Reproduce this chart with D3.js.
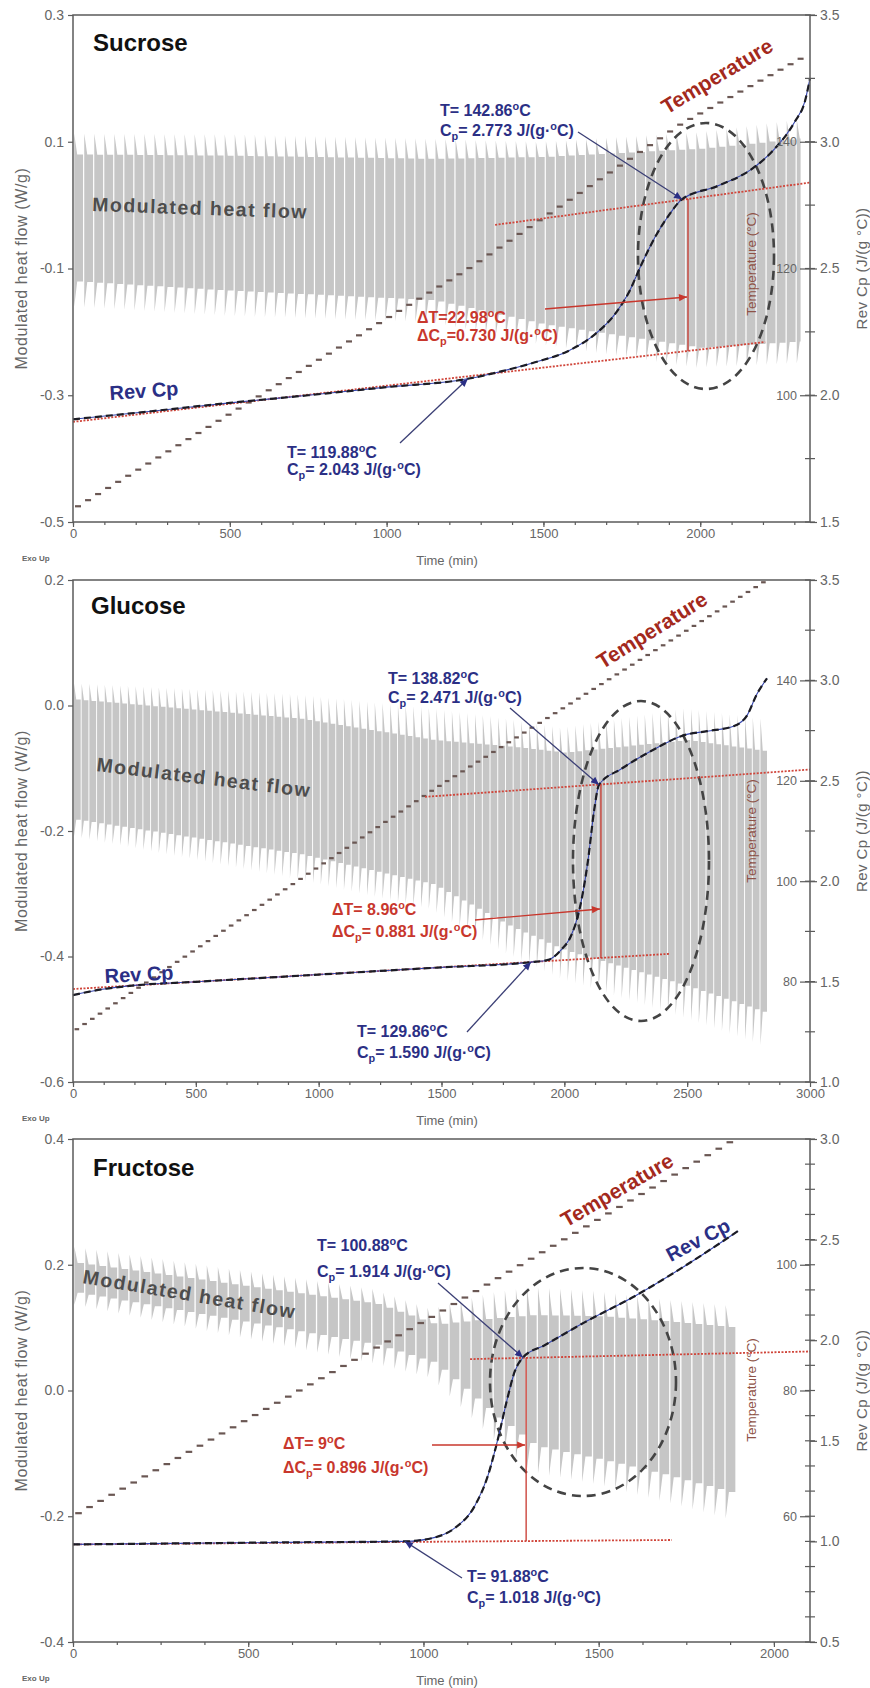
<!DOCTYPE html>
<html>
<head>
<meta charset="utf-8">
<script src="https://cdnjs.cloudflare.com/ajax/libs/d3/7.8.5/d3.min.js"></script>
<style>
  body { margin: 0; background: #fff; }
  svg { display: block; }
</style>
</head>
<body>
<div id="chart"></div>
<script>
// ---------- values ----------
// Sucrose
var sucroseTimeTicks = [0, 500, 1000, 1500, 2000];
var sucroseHfTicks = [-0.5, -0.3, -0.1, 0.1, 0.3];
var sucroseCpTicks = [1.5, 2.0, 2.5, 3.0, 3.5];
var sucroseTempTicks = [100, 120, 140];
var sucroseStep = 32;
var sucroseHfTime   = [0, 500, 1150, 1500, 2000, 2320];
var sucroseHfTip    = [0.113, 0.112, 0.105, 0.100, 0.115, 0.135];
var sucroseHfTop    = [0.080, 0.078, 0.073, 0.076, 0.089, 0.105];
var sucroseHfBottom = [-0.120, -0.135, -0.150, -0.188, -0.225, -0.215];
var sucroseHfTail   = [-0.160, -0.175, -0.185, -0.220, -0.257, -0.250];
var sucroseTempTime  = [0, 1259, 1942, 2335];
var sucroseTempValue = [82.0, 119.9, 142.9, 153.5];
var sucroseCpTime  = [0, 250, 500, 750, 1000, 1259, 1368, 1473, 1578, 1664, 1728, 1770, 1814, 1857, 1898, 1942, 2057, 2165, 2238, 2302, 2334, 2350];
var sucroseCpValue = [1.905, 1.937, 1.97, 2.0, 2.032, 2.065, 2.095, 2.13, 2.174, 2.24, 2.32, 2.40, 2.52, 2.626, 2.707, 2.773, 2.826, 2.893, 2.973, 3.08, 3.16, 3.25];
var sucroseBaseLowTime = [0, 2207],  sucroseBaseLowCp = [1.895, 2.21];
var sucroseBaseHighTime = [1346, 2350], sucroseBaseHighCp = [2.672, 2.839];
var sucroseDropTime = 1961;
var sucroseMarkTime = [1259, 1942], sucroseMarkCp = [2.065, 2.773];

// Glucose
var glucoseTimeTicks = [0, 500, 1000, 1500, 2000, 2500, 3000];
var glucoseHfTicks = [-0.6, -0.4, -0.2, 0.0, 0.2];
var glucoseCpTicks = [1.0, 1.5, 2.0, 2.5, 3.0, 3.5];
var glucoseTempTicks = [80, 100, 120, 140];
var glucoseStep = 31.4;
var glucoseHfTime   = [0, 924, 1466, 1770, 2000, 2500, 2825];
var glucoseHfTip    = [0.036, 0.018, -0.004, -0.020, -0.035, -0.004, -0.021];
var glucoseHfTop    = [0.010, -0.021, -0.055, -0.065, -0.075, -0.055, -0.073];
var glucoseHfBottom = [-0.181, -0.237, -0.285, -0.350, -0.390, -0.447, -0.490];
var glucoseHfTail   = [-0.208, -0.277, -0.325, -0.395, -0.436, -0.498, -0.543];
var glucoseTempTime  = [0, 1466, 2825];
var glucoseTempValue = [70, 118.2, 160];
var glucoseCpTime  = [0, 120, 250, 500, 1000, 1500, 1864, 1934, 1986, 2027, 2056, 2076, 2096, 2121, 2141, 2231, 2353, 2487, 2581, 2691, 2744, 2784, 2825];
var glucoseCpValue = [1.433, 1.462, 1.481, 1.499, 1.535, 1.571, 1.597, 1.608, 1.657, 1.727, 1.831, 1.946, 2.10, 2.35, 2.48, 2.559, 2.648, 2.727, 2.747, 2.773, 2.826, 2.932, 3.01];
var glucoseBaseLowTime = [0, 2426],  glucoseBaseLowCp = [1.463, 1.638];
var glucoseBaseHighTime = [1433, 3000], glucoseBaseHighCp = [2.42, 2.556];
var glucoseDropTime = 2149;
var glucoseMarkTime = [1864, 2141], glucoseMarkCp = [1.597, 2.48];

// Fructose
var fructoseTimeTicks = [0, 500, 1000, 1500, 2000];
var fructoseHfTicks = [-0.4, -0.2, 0.0, 0.2, 0.4];
var fructoseCpTicks = [0.5, 1.0, 1.5, 2.0, 2.5, 3.0];
var fructoseTempTicks = [60, 80, 100];
var fructoseStep = 31.5;
var fructoseHfTime   = [0, 865, 1033, 1206, 1318, 1509, 1698, 1897];
var fructoseHfTip    = [0.230, 0.162, 0.130, 0.156, 0.165, 0.158, 0.145, 0.135];
var fructoseHfTop    = [0.204, 0.138, 0.105, 0.115, 0.120, 0.118, 0.110, 0.100];
var fructoseHfBottom = [0.157, 0.073, 0.044, -0.040, -0.088, -0.110, -0.135, -0.165];
var fructoseHfTail   = [0.138, 0.043, 0.020, -0.075, -0.130, -0.150, -0.177, -0.207];
var fructoseTempTime  = [0, 1030, 1890];
var fructoseTempValue = [60, 91.9, 120];
var fructoseCpTime  = [0, 300, 600, 947, 1033, 1090, 1147, 1184, 1213, 1238, 1261, 1284, 1347, 1461, 1604, 1746, 1898];
var fructoseCpValue = [0.985, 0.99, 0.995, 1.0, 1.02, 1.067, 1.178, 1.327, 1.513, 1.70, 1.847, 1.914, 1.976, 2.09, 2.22, 2.369, 2.543];
var fructoseBaseLowTime = [0, 1709],  fructoseBaseLowCp = [0.985, 1.007];
var fructoseBaseHighTime = [1133, 2103], fructoseBaseHighCp = [1.906, 1.944];
var fructoseDropTime = 1293;
var fructoseMarkTime = [947, 1284], fructoseMarkCp = [1.0, 1.914];

// ---------- drawing ----------
var FONT = "'Liberation Sans', Arial, Helvetica, sans-serif";
var NAVY = "#2b2f85", RED = "#c8372d", DARKRED = "#a3291d", AXIS = "#5b5b5b", TICKTXT = "#666";
var L = 73, R = 810;

function sup(s) { return [s, "sup"]; }
function sub(s) { return [s, "sub"]; }

var panels = [
  {
    name: "Sucrose", top: 15, bottom: 522, tMax: 2350, timeMinor: 100, cpMinor: 0.25,
    hfDomain: [-0.5, 0.3], cpDomain: [1.5, 3.5], tempDomain: [80, 160],
    timeTicks: sucroseTimeTicks, hfTicks: sucroseHfTicks, cpTicks: sucroseCpTicks, tempTicks: sucroseTempTicks,
    step: sucroseStep,
    hf: { time: sucroseHfTime, tip: sucroseHfTip, top: sucroseHfTop, bottom: sucroseHfBottom, tail: sucroseHfTail },
    temp: { time: sucroseTempTime, value: sucroseTempValue },
    cp: { time: sucroseCpTime, value: sucroseCpValue },
    baseLow: { time: sucroseBaseLowTime, cp: sucroseBaseLowCp },
    baseHigh: { time: sucroseBaseHighTime, cp: sucroseBaseHighCp },
    drop: sucroseDropTime, marks: { time: sucroseMarkTime, cp: sucroseMarkCp },
    lay: {
      title: [93, 36], mhf: [92, 196, 2], revCp: [110, 385, -4, "start"],
      tempLabel: [717, 61, -31], ellipse: [706, 241, 68, 133], tempAxisY: 249,
      notes: [
        { x: 287, y: 443, lh: 17, color: NAVY, lines: [["T= 119.88", sup("o"), "C"], ["C", sub("p"), "= 2.043 J/(g·", sup("o"), "C)"]] },
        { x: 440, y: 101, lh: 20, color: NAVY, lines: [["T= 142.86", sup("o"), "C"], ["C", sub("p"), "= 2.773 J/(g·", sup("o"), "C)"]] },
        { x: 417, y: 308, lh: 18, color: RED, lines: [["ΔT=22.98", sup("o"), "C"], ["ΔC", sub("p"), "=0.730 J/(g·", sup("o"), "C)"]] }
      ],
      pointers: [[400, 428, 0], [578, 117, 1]],
      redArrow: [545, 294, 282]
    }
  },
  {
    name: "Glucose", top: 580, bottom: 1082, tMax: 3000, timeMinor: 125, cpMinor: 0.25,
    hfDomain: [-0.6, 0.2], cpDomain: [1.0, 3.5], tempDomain: [60, 160],
    timeTicks: glucoseTimeTicks, hfTicks: glucoseHfTicks, cpTicks: glucoseCpTicks, tempTicks: glucoseTempTicks,
    step: glucoseStep,
    hf: { time: glucoseHfTime, tip: glucoseHfTip, top: glucoseHfTop, bottom: glucoseHfBottom, tail: glucoseHfTail },
    temp: { time: glucoseTempTime, value: glucoseTempValue },
    cp: { time: glucoseCpTime, value: glucoseCpValue },
    baseLow: { time: glucoseBaseLowTime, cp: glucoseBaseLowCp },
    baseHigh: { time: glucoseBaseHighTime, cp: glucoseBaseHighCp },
    drop: glucoseDropTime, marks: { time: glucoseMarkTime, cp: glucoseMarkCp },
    lay: {
      title: [91, 34], mhf: [96, 191, 7], revCp: [105, 403, -3, "start"],
      tempLabel: [652, 50, -32], ellipse: [641, 281, 68, 160], tempAxisY: 251,
      notes: [
        { x: 388, y: 104, lh: 19, color: NAVY, lines: [["T= 138.82", sup("o"), "C"], ["C", sub("p"), "= 2.471 J/(g·", sup("o"), "C)"]] },
        { x: 332, y: 335, lh: 22, color: RED, lines: [["ΔT= 8.96", sup("o"), "C"], ["ΔC", sub("p"), "= 0.881 J/(g·", sup("o"), "C)"]] },
        { x: 357, y: 457, lh: 21, color: NAVY, lines: [["T= 129.86", sup("o"), "C"], ["C", sub("p"), "= 1.590 J/(g·", sup("o"), "C)"]] }
      ],
      pointers: [[510, 128, 1], [467, 452, 0]],
      redArrow: [475, 340, 329]
    }
  },
  {
    name: "Fructose", top: 1139, bottom: 1642, tMax: 2103, timeMinor: 125, cpMinor: 0.125,
    hfDomain: [-0.4, 0.4], cpDomain: [0.5, 3.0], tempDomain: [40, 120],
    timeTicks: fructoseTimeTicks, hfTicks: fructoseHfTicks, cpTicks: fructoseCpTicks, tempTicks: fructoseTempTicks,
    step: fructoseStep,
    hf: { time: fructoseHfTime, tip: fructoseHfTip, top: fructoseHfTop, bottom: fructoseHfBottom, tail: fructoseHfTail },
    temp: { time: fructoseTempTime, value: fructoseTempValue },
    cp: { time: fructoseCpTime, value: fructoseCpValue },
    baseLow: { time: fructoseBaseLowTime, cp: fructoseBaseLowCp },
    baseHigh: { time: fructoseBaseHighTime, cp: fructoseBaseHighCp },
    drop: fructoseDropTime, marks: { time: fructoseMarkTime, cp: fructoseMarkCp },
    lay: {
      title: [93, 37], mhf: [82, 144, 9.5], revCp: [698, 101, -28, "middle"],
      tempLabel: [617, 51, -30], ellipse: [583, 243, 93, 114], tempAxisY: 251,
      notes: [
        { x: 317, y: 112, lh: 26, color: NAVY, lines: [["T= 100.88", sup("o"), "C"], ["C", sub("p"), "= 1.914 J/(g·", sup("o"), "C)"]] },
        { x: 283, y: 310, lh: 24, color: RED, lines: [["ΔT= 9", sup("o"), "C"], ["ΔC", sub("p"), "= 0.896 J/(g·", sup("o"), "C)"]] },
        { x: 467, y: 443, lh: 21, color: NAVY, lines: [["T= 91.88", sup("o"), "C"], ["C", sub("p"), "= 1.018 J/(g·", sup("o"), "C)"]] }
      ],
      pointers: [[438, 144, 1], [462, 439, 0]],
      redArrow: [432, 306, 306]
    }
  }
];

var svg = d3.select("#chart").append("svg").attr("width", 870).attr("height", 1688)
  .style("font-family", FONT);
var defs = svg.append("defs");
function marker(id, color) {
  defs.append("marker").attr("id", id).attr("viewBox", "0 0 10 10")
    .attr("refX", 10).attr("refY", 5).attr("markerUnits", "userSpaceOnUse")
    .attr("markerWidth", 9).attr("markerHeight", 8).attr("orient", "auto")
    .append("path").attr("d", "M0,0.5 L10,5 L0,9.5 z").attr("fill", color);
}
marker("arrNavy", NAVY);
marker("arrRed", RED);

function richText(g, x, y, parts, size, color) {
  var t = g.append("text").attr("x", x).attr("y", y).attr("font-size", size)
    .attr("font-weight", "bold").attr("fill", color);
  var cur = 0;
  parts.forEach(function(p) {
    var s = typeof p === "string" ? [p, ""] : p;
    var off = s[1] === "sub" ? size * 0.28 : s[1] === "sup" ? -size * 0.4 : 0;
    var sp = t.append("tspan").attr("dy", off - cur).text(s[0]);
    if (off !== 0) sp.attr("font-size", size * 0.68);
    cur = off;
  });
  return t;
}

function styleAxis(sel, fs) {
  sel.attr("font-family", FONT).attr("font-size", fs);
  sel.select(".domain").remove();
  sel.selectAll("line").attr("stroke", AXIS).attr("stroke-width", 1.2);
  sel.selectAll("text").attr("fill", TICKTXT);
}

function drawPanel(p) {
  var g = svg.append("g");
  var top = p.top, lay = p.lay;
  var x = d3.scaleLinear().domain([0, p.tMax]).range([L, R]);
  var yHf = d3.scaleLinear().domain(p.hfDomain).range([p.bottom, p.top]);
  var yCp = d3.scaleLinear().domain(p.cpDomain).range([p.bottom, p.top]);
  var yT = d3.scaleLinear().domain(p.tempDomain).range([p.bottom, p.top]);

  // modulated heat flow: one spike per isothermal step, envelope from the read values
  var env = function(arr) { return d3.scaleLinear().domain(p.hf.time).range(arr).clamp(true); };
  var eTip = env(p.hf.tip), eTop = env(p.hf.top), eBot = env(p.hf.bottom), eTail = env(p.hf.tail);
  var P = p.step, hfEnd = d3.max(p.hf.time);
  var d = d3.range(0, hfEnd - P * 0.4, P).map(function(t0) {
    var tm = t0 + P / 2;
    var xa = x(t0 + 0.12 * P), xb = x(t0 + 0.42 * P), xc = x(Math.min(t0 + P, hfEnd));
    return "M" + xa + "," + yHf(eTail(tm)) + "L" + xa + "," + yHf(eTip(tm)) +
      "L" + xb + "," + yHf(eTop(tm)) + "L" + xc + "," + yHf(eTop(tm)) +
      "L" + xc + "," + yHf(eBot(tm)) + "L" + xb + "," + yHf(eBot(tm)) + "Z";
  }).join("");
  g.append("path").attr("d", d).attr("fill", "#c6c6c6");

  // temperature staircase
  var tScale = d3.scaleLinear().domain(p.temp.time).range(p.temp.value);
  var tEnd = d3.max(p.temp.time);
  g.append("g").selectAll("line").data(d3.range(0, tEnd - P * 0.4, P)).join("line")
    .attr("x1", function(t0) { return x(t0 + 0.2 * P); })
    .attr("x2", function(t0) { return x(t0 + 0.8 * P); })
    .attr("y1", function(t0) { return yT(tScale(t0 + P / 2)); })
    .attr("y2", function(t0) { return yT(tScale(t0 + P / 2)); })
    .attr("stroke", "#6a5753").attr("stroke-width", 2.2);

  // dashed ellipse
  g.append("ellipse").attr("cx", lay.ellipse[0]).attr("cy", top + lay.ellipse[1])
    .attr("rx", lay.ellipse[2]).attr("ry", lay.ellipse[3])
    .attr("fill", "none").attr("stroke", "#444").attr("stroke-width", 2.6).attr("stroke-dasharray", "9,6");

  // dotted baselines
  [p.baseLow, p.baseHigh].forEach(function(b) {
    g.append("line").attr("x1", x(b.time[0])).attr("x2", x(b.time[1]))
      .attr("y1", yCp(b.cp[0])).attr("y2", yCp(b.cp[1]))
      .attr("stroke", "#d0453a").attr("stroke-width", 1.8).attr("stroke-dasharray", "2,1.5");
  });

  // Rev Cp
  var cpLine = d3.line().x(function(v) { return x(v[0]); }).y(function(v) { return yCp(v[1]); }).curve(d3.curveMonotoneX);
  var pts = d3.zip(p.cp.time, p.cp.value);
  g.append("path").attr("d", cpLine(pts)).attr("fill", "none").attr("stroke", "#3445b0").attr("stroke-width", 1.1);
  g.append("path").attr("d", cpLine(pts)).attr("fill", "none").attr("stroke", "#1c1c24")
    .attr("stroke-width", 2.2).attr("stroke-dasharray", "7,4");

  var lo = d3.scaleLinear().domain(p.baseLow.time).range(p.baseLow.cp);
  var hi = d3.scaleLinear().domain(p.baseHigh.time).range(p.baseHigh.cp);
  g.append("line").attr("x1", x(p.drop)).attr("x2", x(p.drop))
    .attr("y1", yCp(hi(p.drop))).attr("y2", yCp(lo(p.drop)))
    .attr("stroke", RED).attr("stroke-width", 1.3);

  // red arrow to the step
  g.append("line").attr("x1", lay.redArrow[0]).attr("y1", top + lay.redArrow[1])
    .attr("x2", x(p.drop) - 1).attr("y2", top + lay.redArrow[2])
    .attr("stroke", RED).attr("stroke-width", 1.4).attr("marker-end", "url(#arrRed)");

  // pointers to the onset / end points
  lay.pointers.forEach(function(pt) {
    var i = pt[2];
    g.append("line").attr("x1", pt[0]).attr("y1", top + pt[1])
      .attr("x2", x(p.marks.time[i])).attr("y2", yCp(p.marks.cp[i]))
      .attr("stroke", "#3b3f75").attr("stroke-width", 1.3).attr("marker-end", "url(#arrNavy)");
  });

  // frame
  g.append("rect").attr("x", L).attr("y", p.top).attr("width", R - L).attr("height", p.bottom - p.top)
    .attr("fill", "none").attr("stroke", AXIS).attr("stroke-width", 1.5);

  // axes
  var ax = g.append("g").attr("transform", "translate(" + L + ",0)")
    .call(d3.axisLeft(yHf).tickValues(p.hfTicks).tickSize(5).tickPadding(4)
      .tickFormat(function(v) { return v.toFixed(1); }));
  styleAxis(ax, 14);

  var bx = g.append("g").attr("transform", "translate(0," + p.bottom + ")")
    .call(d3.axisBottom(x).tickValues(p.timeTicks).tickSize(5).tickPadding(2).tickFormat(d3.format("d")));
  styleAxis(bx, 13);
  var bm = g.append("g").attr("transform", "translate(0," + p.bottom + ")")
    .call(d3.axisBottom(x).tickValues(d3.range(0, p.tMax, p.timeMinor)).tickSize(3).tickFormat(""));
  styleAxis(bm, 10);

  var rc = g.append("g").attr("transform", "translate(" + R + ",0)")
    .call(d3.axisRight(yCp).tickValues(p.cpTicks).tickSize(7).tickPadding(3)
      .tickFormat(function(v) { return v.toFixed(1); }));
  styleAxis(rc, 14);
  var minors = d3.range(p.cpDomain[0], p.cpDomain[1] + 1e-6, p.cpMinor);
  g.append("g").selectAll("line").data(minors).join("line")
    .attr("x1", R - 5).attr("x2", R + 5)
    .attr("y1", function(v) { return yCp(v); }).attr("y2", function(v) { return yCp(v); })
    .attr("stroke", AXIS).attr("stroke-width", 1.2);

  var tc = g.append("g").attr("transform", "translate(" + R + ",0)")
    .call(d3.axisLeft(yT).tickValues(p.tempTicks).tickSize(10).tickPadding(3));
  styleAxis(tc, 12.5);

  // axis titles
  g.append("text").attr("transform", "translate(27," + ((p.top + p.bottom) / 2) + ") rotate(-90)")
    .attr("text-anchor", "middle").attr("font-size", 16).attr("letter-spacing", 0.6)
    .attr("fill", TICKTXT).text("Modulated heat flow (W/g)");
  g.append("text").attr("transform", "translate(867," + ((p.top + p.bottom) / 2) + ") rotate(-90)")
    .attr("text-anchor", "middle").attr("font-size", 15).attr("letter-spacing", 0.4)
    .attr("fill", TICKTXT).text("Rev Cp (J/(g °C))");
  g.append("text").attr("transform", "translate(756," + (top + lay.tempAxisY) + ") rotate(-90)")
    .attr("text-anchor", "middle").attr("font-size", 13.5)
    .attr("fill", "#8e5246").text("Temperature (°C)");
  g.append("text").attr("x", 447).attr("y", p.bottom + 43).attr("text-anchor", "middle")
    .attr("font-size", 13).attr("fill", TICKTXT).text("Time (min)");
  g.append("text").attr("x", 22).attr("y", p.bottom + 39)
    .attr("font-size", 8).attr("font-weight", "bold").attr("fill", TICKTXT).text("Exo Up");

  // in-plot labels
  g.append("text").attr("x", lay.title[0]).attr("y", top + lay.title[1])
    .attr("font-size", 24).attr("font-weight", "bold").attr("fill", "#111").text(p.name);
  g.append("text").attr("transform", "translate(" + lay.mhf[0] + "," + (top + lay.mhf[1]) + ") rotate(" + lay.mhf[2] + ")")
    .attr("font-size", 19.5).attr("font-weight", "bold").attr("letter-spacing", 1.5)
    .attr("fill", "#4d4d4d").text("Modulated heat flow");
  g.append("text").attr("transform", "translate(" + lay.revCp[0] + "," + (top + lay.revCp[1]) + ") rotate(" + lay.revCp[2] + ")")
    .attr("text-anchor", lay.revCp[3]).attr("dy", lay.revCp[3] === "middle" ? "0.35em" : 0)
    .attr("font-size", 20).attr("font-weight", "bold").attr("fill", NAVY).text("Rev Cp");
  g.append("text").attr("transform", "translate(" + lay.tempLabel[0] + "," + (top + lay.tempLabel[1]) + ") rotate(" + lay.tempLabel[2] + ")")
    .attr("text-anchor", "middle").attr("dy", "0.35em")
    .attr("font-size", 21).attr("font-weight", "bold").attr("fill", DARKRED).text("Temperature");

  lay.notes.forEach(function(n) {
    n.lines.forEach(function(parts, k) {
      richText(g, n.x, top + n.y + k * n.lh, parts, 16, n.color);
    });
  });
}

panels.forEach(drawPanel);
</script>
</body>
</html>
